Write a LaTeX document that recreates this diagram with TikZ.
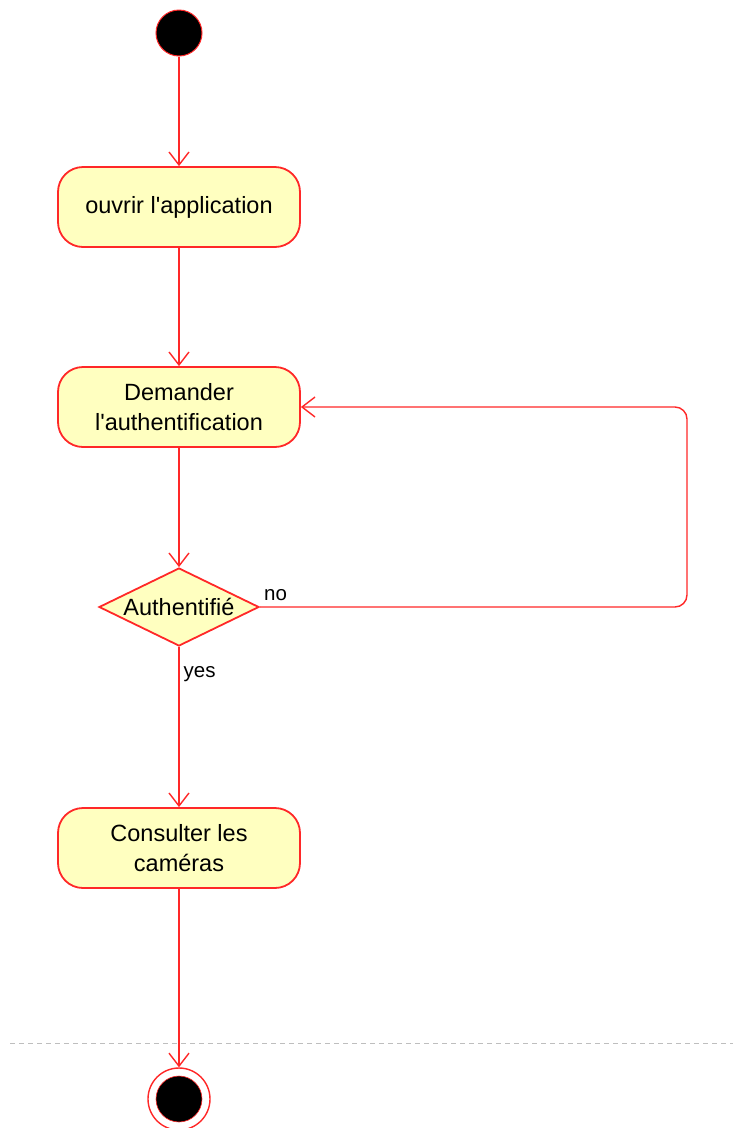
\documentclass[tikz,border=0pt]{standalone}
\usepackage{fontspec}
\setmainfont{Liberation Sans}
\usetikzlibrary{shapes.geometric,arrows.meta}
\definecolor{umlred}{RGB}{255,40,40}
\definecolor{umlfill}{RGB}{255,255,192}
\definecolor{sepgray}{RGB}{190,190,190}
\begin{document}
\begin{tikzpicture}[x=1pt,y=-1pt,
  action/.style={draw=umlred, fill=umlfill, line width=1.8pt, rounded corners=25pt,
    minimum width=242pt, minimum height=80pt, align=center,
    font=\fontsize{23.5}{29.5}\selectfont, inner sep=0pt},
  decision/.style={diamond, aspect=2.05, draw=umlred, fill=umlfill, line width=1.8pt,
    minimum width=160pt, minimum height=78pt, inner sep=0pt,
    font=\fontsize{23.5}{29}\selectfont},
  flow/.style={draw=umlred, line width=1.4pt,
    -{Straight Barb[length=13pt,width=20pt,line width=1.4pt]}},
  guard/.style={font=\fontsize{20.5}{24}\selectfont, inner sep=0pt}]
\useasboundingbox (0,0) rectangle (733,1128);

% initial node
\node[circle, draw=umlred, fill=black, line width=1pt, minimum size=46pt, inner sep=0pt] (start) at (179,33) {};

% actions
\node[action] (open) at (179,207) {ouvrir l\textquotesingle application};
\node[action] (auth) at (179,407) {Demander\\l\textquotesingle authentification};
\node[decision] (ok) at (179,607) {Authentifié};
\node[action] (cams) at (179,848) {Consulter les\\caméras};

% final node
\node[circle, draw=umlred, fill=white, line width=1.4pt, minimum size=62pt, inner sep=0pt] (end) at (179,1099) {};
\node[circle, draw=umlred, fill=black, line width=0.6pt, minimum size=46pt, inner sep=0pt] (endcore) at (179,1099) {};

% separator
\draw[sepgray, line width=1pt, dash pattern=on 5pt off 4pt] (10,1043) -- (733,1043);

% control flow
\draw[flow] (start) -- (open);
\draw[flow] (open) -- (auth);
\draw[flow] (auth) -- (ok.north);
\draw[flow] (ok.south) -- node[guard, pos=0.17, right=4pt] {yes} (cams);
\draw[flow] (cams) -- (end);

\coordinate (loopA) at (687,607);
\coordinate (loopB) at (687,407);
\draw[flow, rounded corners=12pt] (ok.east) -- (loopA) -- (loopB) -- (auth.east);
\node[guard, anchor=south west] (nolabel) at (264,601) {no};
\end{tikzpicture}
\end{document}
